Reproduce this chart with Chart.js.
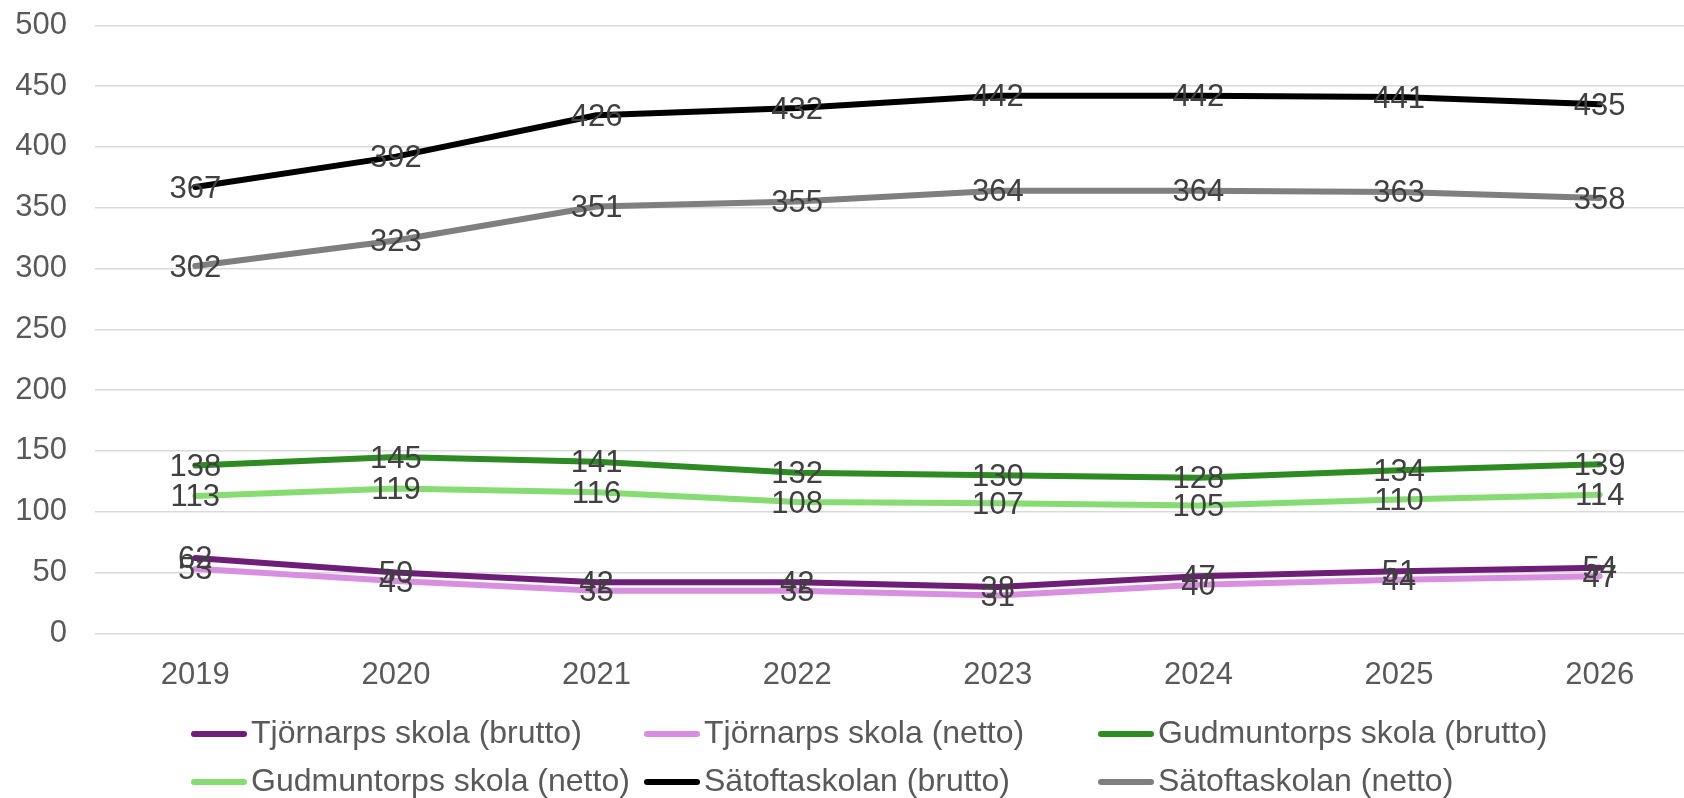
<!DOCTYPE html>
<html>
<head>
<meta charset="utf-8">
<script src="https://cdn.jsdelivr.net/npm/chart.js@4"></script>
<style>
    html, body { margin: 0; padding: 0; background: #ffffff; overflow: hidden; }
    #wrap { position: relative; width: 1700px; height: 798px; }
</style>
</head>
<body>
<!-- canvas is a bit wider than the window so the right edge is cut like the reference -->
<div id="wrap"><canvas id="elevChart" width="1700" height="798"></canvas></div>
<script>
// Data
const years = ['2019', '2020', '2021', '2022', '2023', '2024', '2025', '2026'];

const tjornarpsBrutto = [62, 50, 42, 42, 38, 47, 51, 54];
const tjornarpsNetto = [53, 43, 35, 35, 31, 40, 44, 47];
const gudmuntorpsBrutto = [138, 145, 141, 132, 130, 128, 134, 139];
const gudmuntorpsNetto = [113, 119, 116, 108, 107, 105, 110, 114];
const satoftaBrutto = [367, 392, 426, 432, 442, 442, 441, 435];
const satoftaNetto = [302, 323, 351, 355, 364, 364, 363, 358];

const seriesNames = [
    'Tjörnarps skola (brutto)', 'Tjörnarps skola (netto)', 'Gudmuntorps skola (brutto)',
    'Gudmuntorps skola (netto)', 'Sätoftaskolan (brutto)', 'Sätoftaskolan (netto)'
];
const seriesColors = ['#6E1E76', '#D98FE0', '#2E8A22', '#86DC72', '#000000', '#7F7F7F'];

const FONT = '"Liberation Sans", Arial, sans-serif';

// value labels drawn centred on each point (like Excel "center")
const valueLabels = {
    id: 'valueLabels',
    afterDatasetsDraw(chart) {
        const ctx = chart.ctx;
        ctx.save();
        ctx.font = `31px ${FONT}`;
        ctx.fillStyle = '#404040';
        ctx.textAlign = 'center';
        ctx.textBaseline = 'middle';
        chart.data.datasets.forEach((ds, i) => {
            const meta = chart.getDatasetMeta(i);
            meta.data.forEach((pt, j) => {
                ctx.fillText(String(ds.data[j]), pt.x, pt.y + 2);
            });
        });
        ctx.restore();
    }
};

// legend in a 3-column grid below the plot
const gridLegend = {
    id: 'gridLegend',
    afterDraw(chart) {
        const ctx = chart.ctx;
        const colX = [191, 644, 1098];
        const rowY = [734, 782];
        ctx.save();
        ctx.font = `32px ${FONT}`;
        ctx.textBaseline = 'middle';
        ctx.textAlign = 'left';
        chart.data.datasets.forEach((ds, i) => {
            const x = colX[i % 3];
            const y = rowY[Math.floor(i / 3)];
            ctx.strokeStyle = ds.borderColor;
            ctx.lineWidth = 6;
            ctx.lineCap = 'round';
            ctx.beginPath();
            ctx.moveTo(x + 3, y);
            ctx.lineTo(x + 53, y);
            ctx.stroke();
            ctx.fillStyle = '#595959';
            ctx.fillText(ds.label, x + 60, y);
        });
        ctx.restore();
    }
};

const allSeries = [tjornarpsBrutto, tjornarpsNetto, gudmuntorpsBrutto, gudmuntorpsNetto, satoftaBrutto, satoftaNetto];

new Chart(document.getElementById('elevChart').getContext('2d'), {
    type: 'line',
    data: {
        labels: years,
        datasets: allSeries.map((values, i) => ({
            label: seriesNames[i],
            data: values,
            borderColor: seriesColors[i],
            backgroundColor: seriesColors[i],
            borderWidth: 6,
            pointRadius: 0,
            tension: 0,
            borderCapStyle: 'round',
            borderJoinStyle: 'round'
        }))
    },
    options: {
        responsive: false,
        animation: false,
        devicePixelRatio: 1,
        layout: { padding: { top: 25.3, right: 0, bottom: 0, left: 0 } },
        plugins: {
            legend: { display: false },
            tooltip: { enabled: false }
        },
        scales: {
            x: {
                offset: true,
                grid: { display: false, offset: true },
                border: { display: false },
                ticks: { color: '#595959', font: { family: FONT, size: 31 }, padding: 16, maxRotation: 0 },
                afterFit(scale) { scale.height = 164.7; }
            },
            y: {
                min: 0,
                max: 500,
                // invisible tick marks give the gap between labels and plot
                grid: { color: '#D9D9D9', lineWidth: 1.5, drawTicks: true, tickLength: 28, tickColor: 'rgba(0,0,0,0)' },
                border: { display: false },
                ticks: { stepSize: 50, color: '#595959', font: { family: FONT, size: 31 }, padding: 0 },
                afterFit(scale) { scale.width = 95; }
            }
        }
    },
    plugins: [valueLabels, gridLegend]
});
</script>
</body>
</html>
